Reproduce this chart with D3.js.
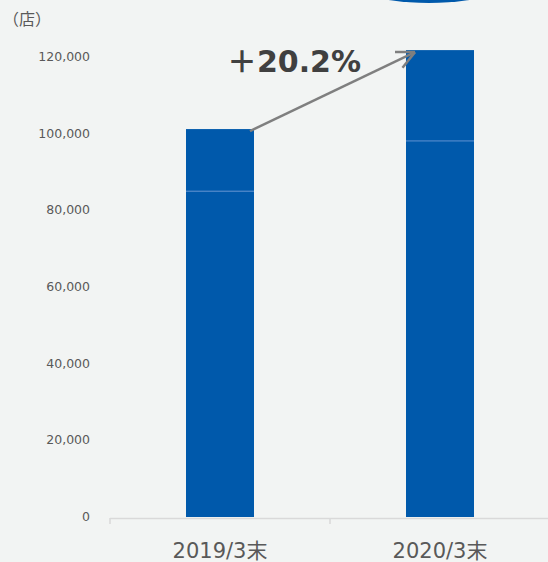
<!DOCTYPE html>
<html>
<head>
    <meta charset="utf-8">
    <script src="https://d3js.org/d3.v7.min.js"></script>
    <style>
        body { margin: 0; background: #f2f4f3; }
        text { font-family: Verdana, "DejaVu Sans", "Noto Sans CJK JP", sans-serif; }
    </style>
</head>
<body>
    <svg id="chart"></svg>
    <script>
        // data
        const categories = ['2019/3末', '2020/3末'];
        const baseValues = [85000, 98100];
        const topValues = [16200, 23700];
        const yTicks = [0, 20000, 40000, 60000, 80000, 100000, 120000];
        const growthLabel = '＋20.2%';

        const width = 548, height = 562;
        const svg = d3.select('#chart').attr('width', width).attr('height', height);

        svg.append('rect').attr('width', width).attr('height', height).attr('fill', '#f2f4f3');

        const x = d3.scaleBand().domain(categories).range([110, 550]).paddingInner(0).paddingOuter(0);
        const y = d3.scaleLinear().domain([0, 120000]).range([517, 57]);
        const barW = 68;

        // decorative ellipse peeking in at the top
        svg.append('ellipse')
            .attr('cx', 429).attr('cy', -33).attr('rx', 100).attr('ry', 36)
            .attr('fill', '#0059ab');

        // y labels
        svg.append('g').selectAll('text')
            .data(yTicks)
            .enter().append('text')
            .attr('x', 90)
            .attr('y', d => y(d) + 4)
            .attr('text-anchor', 'end')
            .attr('font-size', 12.5)
            .attr('fill', '#595959')
            .text(d => d3.format(',')(d));

        svg.append('text')
            .attr('x', 3).attr('y', 25)
            .attr('font-size', 16)
            .attr('fill', '#595959')
            .text('（店）');

        // bars
        const stacked = categories.map((c, i) => ({ c, base: baseValues[i], top: topValues[i] }));
        const g = svg.append('g');
        stacked.forEach(d => {
            const cx = x(d.c) + x.bandwidth() / 2;
            g.append('rect')
                .attr('x', cx - barW / 2).attr('width', barW)
                .attr('y', y(d.base)).attr('height', y(0) - y(d.base))
                .attr('fill', '#0059ab');
            g.append('rect')
                .attr('x', cx - barW / 2).attr('width', barW)
                .attr('y', y(d.base + d.top)).attr('height', y(d.base) - y(d.base + d.top))
                .attr('fill', '#0059ab');
            g.append('line')
                .attr('x1', cx - barW / 2).attr('x2', cx + barW / 2)
                .attr('y1', y(d.base)).attr('y2', y(d.base))
                .attr('stroke', '#5b8fd0').attr('stroke-width', 1);
        });

        // x axis
        svg.append('line')
            .attr('x1', 110).attr('x2', 548).attr('y1', 518.5).attr('y2', 518.5)
            .attr('stroke', '#d9d9d9').attr('stroke-width', 1.5);
        [110, 330].forEach(t => {
            svg.append('line')
                .attr('x1', t).attr('x2', t).attr('y1', 518).attr('y2', 524)
                .attr('stroke', '#d9d9d9').attr('stroke-width', 1.5);
        });

        svg.append('g').selectAll('text')
            .data(categories)
            .enter().append('text')
            .attr('x', d => x(d) + x.bandwidth() / 2)
            .attr('y', 558)
            .attr('text-anchor', 'middle')
            .attr('font-size', 21)
            .attr('fill', '#595959')
            .text(d => d);

        // growth arrow
        const x1 = x(categories[0]) + x.bandwidth() / 2 + barW / 2 - 4;
        const y1 = y(baseValues[0] + topValues[0]) + 2;
        const x2 = x(categories[1]) + x.bandwidth() / 2 - barW / 2 + 9;
        const y2 = y(baseValues[1] + topValues[1]) + 2;
        svg.append('line')
            .attr('x1', x1).attr('y1', y1).attr('x2', x2).attr('y2', y2)
            .attr('stroke', '#7f7f7f').attr('stroke-width', 2.5);
        const ang = Math.atan2(y2 - y1, x2 - x1);
        const hl = 20;
        [0.45, -0.45].forEach(a => {
            svg.append('line')
                .attr('x1', x2).attr('y1', y2)
                .attr('x2', x2 - hl * Math.cos(ang + a))
                .attr('y2', y2 - hl * Math.sin(ang + a))
                .attr('stroke', '#7f7f7f').attr('stroke-width', 2.5);
        });

        svg.append('text')
            .attr('x', 294).attr('y', 72)
            .attr('text-anchor', 'middle')
            .attr('font-size', 30)
            .attr('font-weight', 'bold')
            .attr('fill', '#404040')
            .text(growthLabel);
    </script>
</body>
</html>
